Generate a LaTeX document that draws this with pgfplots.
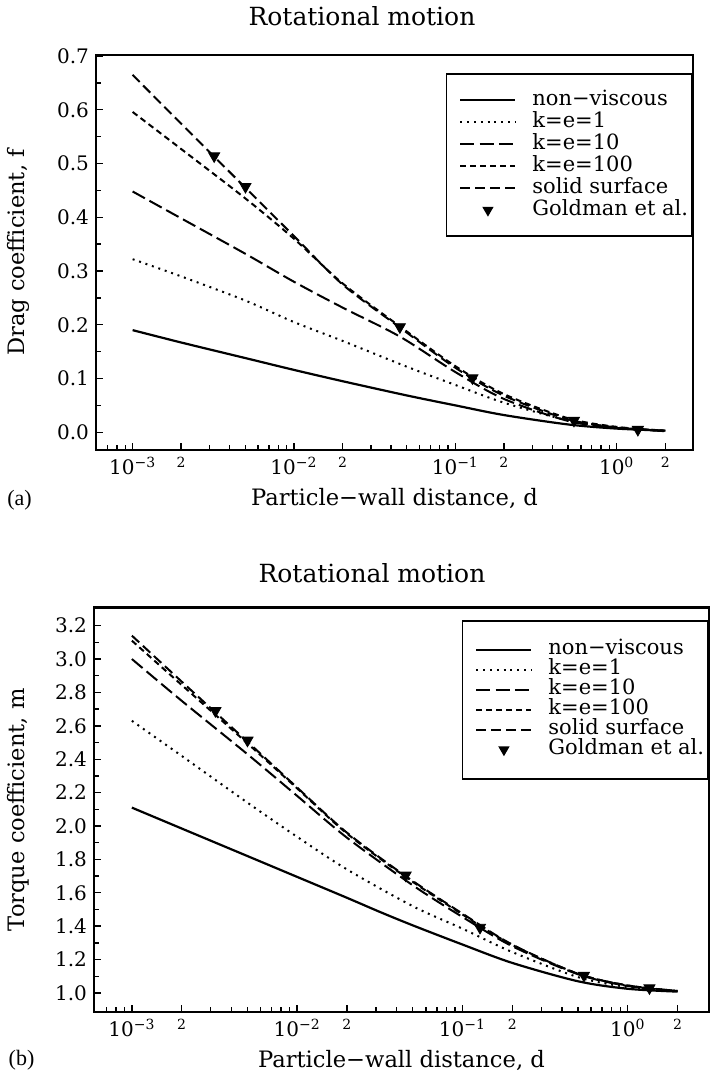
\documentclass[border=0pt]{standalone}
\usepackage{fontspec}
\setmainfont{DejaVu Serif}
\newfontfamily\capfont{Liberation Serif}
\usepackage{pgfplots}
\pgfplotsset{compat=1.18}

\pgfplotsset{
  every axis/.append style={
    scale only axis,
    axis line style={line width=1.2pt},
    tick align=inside, xtick pos=bottom, ytick pos=left,
    major tick length=3.5pt, minor tick length=2.5pt,
    tick style={black, line width=0.7pt},
    xtick={1e-3,2e-3,1e-2,2e-2,1e-1,2e-1,1,2},
    xticklabels={10\textsuperscript{−3},{\fontsize{7}{8}\selectfont 2},
                 10\textsuperscript{−2},{\fontsize{7}{8}\selectfont 2},
                 10\textsuperscript{−1},{\fontsize{7}{8}\selectfont 2},
                 10\textsuperscript{0},{\fontsize{7}{8}\selectfont 2}},
    minor xtick={7e-4,8e-4,9e-4,3e-3,4e-3,5e-3,6e-3,7e-3,8e-3,9e-3,
                 3e-2,4e-2,5e-2,6e-2,7e-2,8e-2,9e-2,
                 0.3,0.4,0.5,0.6,0.7,0.8,0.9},
    minor y tick num=1,
    scaled ticks=false,
    tick label style={font=\fontsize{10}{12}\selectfont},
    /pgf/number format/assume math mode=true,
    yticklabel style={/pgf/number format/.cd, fixed, fixed zerofill, precision=1},
    label style={font=\fontsize{11.3}{13}\selectfont},
    legend cell align=left,
    legend style={anchor=north east, draw=black, line width=0.9pt,
      inner xsep=2pt, row sep=0pt,
      font=\fontsize{10.5}{12}\selectfont},
    legend image code/.code={\path[draw=none, fill=none] (-5pt,0pt) -- (36pt,0pt);
      \draw[##1] (0pt,0pt) -- (27.5pt,0pt);},
  },
  nv/.style={black, line width=1.1pt, smooth},
  ke1/.style={black, line width=1pt, dash pattern=on 1pt off 2.4pt, smooth},
  ke10/.style={black, line width=1pt, dash pattern=on 7pt off 2.6pt, smooth},
  ke100/.style={black, line width=1pt, dash pattern=on 3pt off 2pt, smooth},
  sol/.style={black, line width=1pt, dash pattern=on 5pt off 2.5pt, smooth},
  gold/.style={only marks, mark=triangle*, mark size=3.2pt,
    mark options={rotate=180, solid, fill=black, draw=black},
    legend image code/.code={\path[draw=none, fill=none] (-5pt,0pt) -- (36pt,0pt);
      \draw[mark repeat=2, mark phase=2, ##1, mark size=2.4pt]
      plot coordinates {(0pt,0pt) (13.75pt,0pt) (27.5pt,0pt)};}},
}

\begin{document}
\begin{tikzpicture}
\useasboundingbox (0,0) rectangle (360pt,537pt);

\node[font=\fontsize{12.5}{14}\selectfont] at (181pt,529pt) {Rotational motion};
\node[font=\fontsize{12.5}{14}\selectfont] at (186pt,250.5pt) {Rotational motion};
\node[font=\capfont\fontsize{11}{13}\selectfont] at (9.75pt,287pt) {(a)};
\node[font=\capfont\fontsize{11}{13}\selectfont] at (10.75pt,7pt) {(b)};

% (a) drag coefficient
\begin{axis}[xmode=log,
  at={(48pt,312pt)}, anchor=south west,
  width=298.5pt, height=197.5pt,
  xmin=5.93e-4, xmax=2.97, ymin=-0.033, ymax=0.702,
  ytick={0,0.1,0.2,0.3,0.4,0.5,0.6,0.7},
  xlabel={Particle−wall distance, d},
  ylabel={Drag coefficient, f},
  xlabel style={at={(axis description cs:0.5,0)}, anchor=center, yshift=-24pt},
  ylabel style={at={(axis description cs:-0.1307,0.5)}, anchor=center},
  legend style={at={(rel axis cs:1,0.954)}, inner ysep=7.5pt,
    nodes={text height=7.8pt, text depth=2.4pt, inner ysep=0.4pt, inner xsep=0pt}},
]
\addplot[nv] coordinates {
  (1e-3,0.190) (2e-3,0.167) (5e-3,0.138) (1e-2,0.116) (2e-2,0.095) (5e-2,0.0685)
  (0.1,0.050) (0.2,0.032) (0.5,0.0145) (1,0.0068) (2,0.003)};
\addlegendentry{non−viscous}
\addplot[ke1] coordinates {
  (1e-3,0.322) (2e-3,0.290) (5e-3,0.245) (1e-2,0.205) (2e-2,0.170) (5e-2,0.122)
  (0.1,0.088) (0.2,0.055) (0.5,0.022) (1,0.009) (2,0.003)};
\addlegendentry{k=e=1}
\addplot[ke10] coordinates {
  (1e-3,0.448) (2e-3,0.398) (5e-3,0.332) (1e-2,0.280) (2e-2,0.232) (4.53e-2,0.178)
  (0.1,0.112) (0.2,0.062) (0.5,0.021) (1,0.008) (2,0.002)};
\addlegendentry{k=e=10}
\addplot[ke100] coordinates {
  (1e-3,0.596) (2e-3,0.527) (5e-3,0.435) (1e-2,0.360) (2e-2,0.277) (4.53e-2,0.197)
  (0.1,0.123) (0.2,0.071) (0.5,0.026) (1,0.010) (2,0.003)};
\addlegendentry{k=e=100}
\addplot[sol] coordinates {
  (1e-3,0.665) (2e-3,0.574) (5e-3,0.455) (1e-2,0.365) (2e-2,0.275) (4.53e-2,0.195)
  (0.1,0.120) (0.2,0.068) (0.5,0.024) (1,0.009) (2,0.003)};
\addlegendentry{solid surface}
\addplot[gold] coordinates {
  (3.202e-3,0.514) (5.004e-3,0.457) (4.53e-2,0.196) (0.1276,0.101) (0.5431,0.022) (1.3524,0.005)};
\addlegendentry{Goldman et al.}
\end{axis}

% (b) torque coefficient
\begin{axis}[xmode=log,
  at={(47pt,31pt)}, anchor=south west,
  width=307.5pt, height=202.2pt,
  xmin=5.9e-4, xmax=3.1, ymin=0.886, ymax=3.308,
  ytick={1.0,1.2,1.4,1.6,1.8,2.0,2.2,2.4,2.6,2.8,3.0,3.2},
  xlabel={Particle−wall distance, d},
  ylabel={Torque coefficient, m},
  xlabel style={at={(axis description cs:0.5,0)}, anchor=center, yshift=-24pt},
  ylabel style={at={(axis description cs:-0.1236,0.5)}, anchor=center},
  legend style={at={(rel axis cs:1,0.970)}, inner ysep=9.5pt,
    nodes={text height=7.4pt, text depth=2.2pt, inner ysep=0.2pt, inner xsep=0pt}},
]
\addplot[nv] coordinates {
  (1e-3,2.110) (2e-3,1.985) (5e-3,1.820) (1e-2,1.695) (2e-2,1.570) (3.17e-2,1.485)
  (5e-2,1.405) (0.1,1.290) (0.2,1.180) (0.5,1.070) (1,1.025) (2,1.008)};
\addlegendentry{non−viscous}
\addplot[ke1] coordinates {
  (1e-3,2.630) (2e-3,2.420) (5e-3,2.140) (1e-2,1.935) (2e-2,1.740) (5e-2,1.520)
  (0.1,1.385) (0.2,1.245) (0.5,1.095) (1,1.035) (2,1.010)};
\addlegendentry{k=e=1}
\addplot[ke10] coordinates {
  (1e-3,3.000) (2e-3,2.750) (5e-3,2.430) (1e-2,2.180) (2e-2,1.930) (5e-2,1.645)
  (0.1,1.455) (0.2,1.280) (0.5,1.112) (1,1.042) (2,1.012)};
\addlegendentry{k=e=10}
\addplot[ke100] coordinates {
  (1e-3,3.110) (2e-3,2.845) (5e-3,2.495) (1e-2,2.225) (2e-2,1.955) (4.53e-2,1.695)
  (0.1,1.470) (0.2,1.288) (0.5,1.115) (1,1.045) (2,1.012)};
\addlegendentry{k=e=100}
\addplot[sol] coordinates {
  (1e-3,3.140) (2e-3,2.865) (5e-3,2.505) (1e-2,2.230) (2e-2,1.960) (4.53e-2,1.700)
  (0.1,1.475) (0.2,1.290) (0.5,1.115) (1,1.045) (2,1.012)};
\addlegendentry{solid surface}
\addplot[gold] coordinates {
  (3.202e-3,2.690) (5.004e-3,2.513) (4.53e-2,1.705) (0.1276,1.392) (0.5431,1.105) (1.3524,1.030)};
\addlegendentry{Goldman et al.}
\end{axis}
\end{tikzpicture}
\end{document}
